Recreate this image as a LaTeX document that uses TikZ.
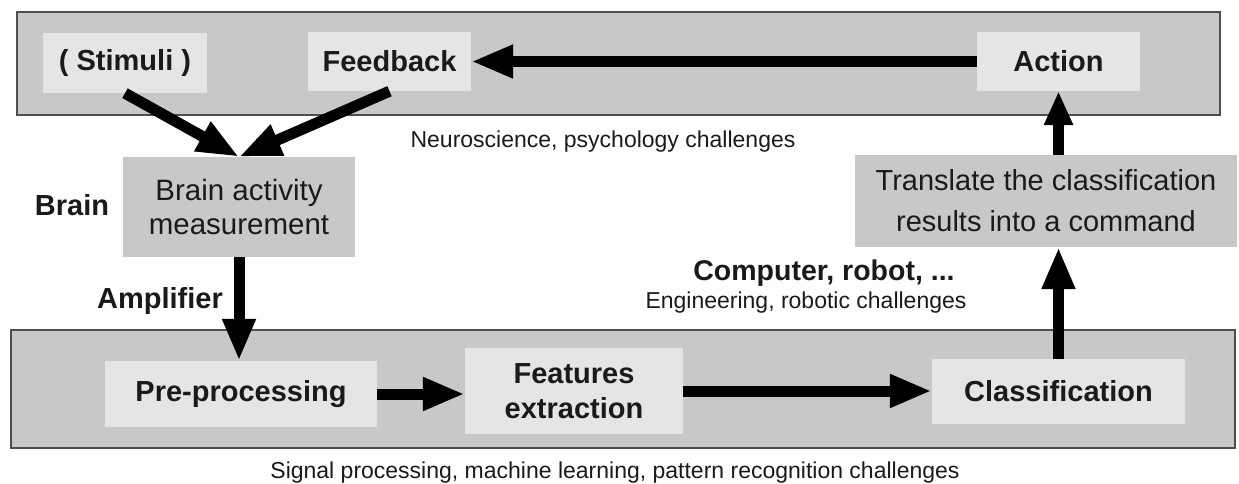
\documentclass[tikz,border=0pt]{standalone}
\usepackage{fontspec}
\setmainfont{Liberation Sans}
\usetikzlibrary{arrows.meta,calc}
\definecolor{bandfill}{HTML}{C8C8C8}
\definecolor{bandline}{HTML}{4E4E4E}
\definecolor{boxlight}{HTML}{E5E5E5}
\definecolor{ink}{HTML}{1A1A1A}
\tikzset{
  band/.style={draw=bandline, line width=2pt, fill=bandfill, inner sep=0pt},
  lightbox/.style={fill=boxlight, inner sep=0pt, text=ink, align=center,
    font=\bfseries\fontsize{29}{35}\selectfont},
  greybox/.style={fill=bandfill, inner sep=0pt, text=ink, align=center},
  caption/.style={text=ink, inner sep=0pt, font=\fontsize{23}{28}\selectfont},
  boldlabel/.style={text=ink, inner sep=0pt, font=\bfseries\fontsize{29}{34}\selectfont},
  flow/.style={line width=11pt, -{Triangle[length=42pt,width=31pt]}},
}
\begin{document}
\begin{tikzpicture}[x=1pt,y=-1pt]
  \useasboundingbox[fill=white] (0,0) rectangle (1239,484);

  % the two background bands
  \node[band, minimum width=1203pt, minimum height=103pt] (topband) at (618.5,63.5) {};
  \node[band, minimum width=1224pt, minimum height=118pt] (botband) at (623,389) {};

  % upper row
  \node[lightbox, minimum width=164pt, minimum height=60pt] (stimuli) at (125,63) {( Stimuli )};
  \node[lightbox, minimum width=163pt, minimum height=59pt] (feedback) at (389.5,61.5) {Feedback};
  \node[lightbox, minimum width=163pt, minimum height=59pt] (action) at (1058.5,61.5) {Action};

  % middle boxes
  \node[greybox, minimum width=232pt, minimum height=100pt,
        font=\fontsize{29.5}{34}\selectfont] (brainbox) at (239,207)
        {Brain activity\\measurement};
  \node[greybox, minimum width=382pt, minimum height=92pt,
        font=\fontsize{29}{41}\selectfont] (translate) at (1046,201)
        {Translate the classification\\results into a command};

  % lower row
  \node[lightbox, minimum width=272pt, minimum height=66pt] (pre) at (241,394) {Pre-processing};
  \node[lightbox, minimum width=218pt, minimum height=86pt] (feat) at (574,391) {Features\\extraction};
  \node[lightbox, minimum width=253pt, minimum height=65pt] (class) at (1058.5,391.5) {Classification};

  % free labels
  \node[caption] (neuro) at (603,142) {Neuroscience, psychology challenges};
  \node[boldlabel] (brainlbl) at (72,205) {Brain};
  \node[boldlabel] (amplbl) at (160,301) {Amplifier};
  \node[boldlabel, font=\bfseries\fontsize{28.5}{34}\selectfont] (complbl) at (824,273) {Computer, robot, ...};
  \node[caption] (englbl) at (806,303) {Engineering, robotic challenges};
  \node[caption] (siglbl) at (615,473) {Signal processing, machine learning, pattern recognition challenges};

  % connectors
  \draw[flow] (stimuli.south) -- (brainbox.north);
  \draw[flow] (feedback.south) -- (brainbox.north);
  \draw[flow] (brainbox.south) -- (brainbox.south |- pre.north);
  \draw[flow] (pre.east) -- (pre.east -| feat.west);
  \draw[flow] (feat.east) -- (feat.east -| class.west);
  \draw[flow] (class.north) -- (class.north |- translate.south);
  \draw[flow, -{Triangle[length=34pt,width=27pt]}] (action.south |- translate.north) -- (action.south);
  \draw[flow] (action.west) -- (feedback.east);
\end{tikzpicture}
\end{document}
